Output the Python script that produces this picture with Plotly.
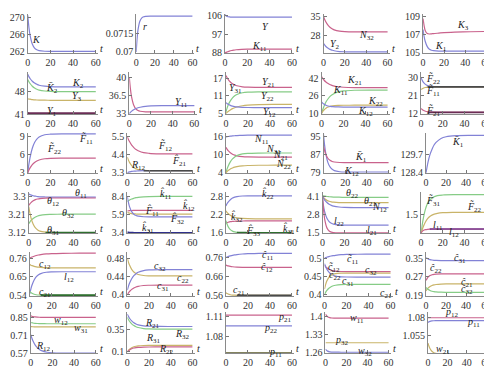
import plotly.graph_objects as go

T = [0, 1, 2, 4, 6, 8, 10, 15, 20, 30, 45, 60]
N = None

# ---- row 1 ----
K = [270.6, 267.8, 265.95, 263.85, 262.9, 262.5, 262.3, 262.17, 262.15, 262.15, 262.15, 262.15]
r = [0.0700, 0.07113, 0.07183, 0.07251, 0.07276, 0.07285, 0.07288, 0.0729, 0.0729, 0.0729, 0.0729, 0.0729]
Y = [106.6, 106.0, 105.7, 105.5, 105.4, 105.4, 105.4, 105.4, 105.4, 105.4, 105.4, 105.4]
K11_a = [88.0, 88.3, 88.5, 88.9, 89.2, 89.4, 89.55, 89.75, 89.85, 89.9, 89.9, 89.9]
N32_a = [35.2, 34.1, 33.2, 31.9, 31.0, 30.4, 30.0, 29.5, 29.3, 29.2, 29.2, 29.2]
Y2_a = [24.8, 24.2, 23.7, 23.0, 22.5, 22.2, 21.95, 21.65, 21.56, 21.5, 21.5, 21.5]
K3 = [108.8, 108.0, 107.5, 107.15, 107.1, 107.12, 107.15, 107.2, 107.25, 107.3, 107.35, 107.38]
K1 = [107.6, 106.8, 106.3, 105.7, 105.4, 105.3, 105.25, 105.2, 105.2, 105.2, 105.2, 105.2]
# ---- row 2 ----
K2 = [53.5, 52.8, 52.2, 51.35, 50.8, 50.4, 50.1, 49.8, 49.67, 49.6, 49.6, 49.6]
K2bar = [51.9, 51.2, 50.65, 49.8, 49.25, 48.85, 48.6, 48.3, 48.17, 48.1, 48.1, 48.1]
Y3 = [45.9, 45.8, 45.75, 45.6, 45.55, 45.5, 45.47, 45.43, 45.41, 45.4, 45.4, 45.4]
Y1 = [41.4, 41.35, 41.32, 41.3, 41.3, 41.3, 41.3, 41.3, 41.3, 41.3, 41.3, 41.3]
Y12_a = [40.0, 37.8, 36.3, 34.65, 33.9, 33.57, 33.43, 33.32, 33.3, 33.3, 33.3, 33.3]
Y11_a = [33.0, 33.2, 33.4, 33.7, 33.95, 34.1, 34.2, 34.38, 34.45, 34.5, 34.5, 34.5]
Y21 = [18.0, 17.26, 16.65, 15.75, 15.13, 14.72, 14.45, 14.1, 13.97, 13.91, 13.9, 13.9]
Y31 = [5.5, 6.74, 7.78, 9.3, 10.33, 11.02, 11.47, 12.06, 12.28, 12.38, 12.4, 12.4]
Y22 = [5.0, 5.37, 5.68, 6.2, 6.64, 6.95, 7.2, 7.63, 7.85, 8.03, 8.09, 8.1]
Y12_b = [8.7, 8.39, 8.14, 7.77, 7.51, 7.34, 7.23, 7.09, 7.03, 7.0, 7.0, 7.0]
K21 = [43.5, 42.0, 40.7, 38.6, 37.2, 36.1, 35.4, 34.3, 33.86, 33.57, 33.5, 33.5]
K11_b = [10.0, 13.2, 15.96, 20.4, 23.4, 25.76, 27.25, 29.6, 30.53, 31.15, 31.3, 31.3]
K22 = [10.0, 11.65, 12.9, 14.7, 15.85, 16.5, 16.9, 17.33, 17.45, 17.5, 17.5, 17.5]
K12_a = [20.4, 19.4, 18.6, 17.5, 16.8, 16.4, 16.18, 15.9, 15.83, 15.8, 15.8, 15.8]
Ft22_a = [30.0, 28.7, 27.75, 26.6, 26.0, 25.72, 25.57, 25.43, 25.4, 25.4, 25.4, 25.4]
Ft11_a = [24.0, 24.4, 24.7, 25.04, 25.21, 25.3, 25.35, 25.39, 25.4, 25.4, 25.4, 25.4]
Ft12_a = [N, N, N, N, 25.4, 25.4, 25.4, 25.4, 25.4, 25.4, 25.4, 25.4]
Ft21_a = [14.5, 13.97, 13.57, 13.1, 12.86, 12.73, 12.67, 12.61, 12.6, 12.6, 12.6, 12.6]
Ft21_d = [N, N, N, N, 12.5, 12.5, 12.5, 12.5, 12.5, 12.5, 12.5, 12.5]
# ---- row 3 ----
Ft11_b = [3.0, 4.43, 5.54, 7.1, 8.07, 8.62, 8.97, 9.35, 9.45, 9.5, 9.5, 9.5]
Ft22_b = [3.0, 3.44, 3.81, 4.35, 4.72, 4.96, 5.12, 5.33, 5.41, 5.44, 5.45, 5.45]
Ft12_b = [5.5, 5.34, 5.21, 4.99, 4.84, 4.72, 4.65, 4.53, 4.49, 4.46, 4.45, 4.45]
Fh21_b = [4.25, 4.07, 3.93, 3.73, 3.6, 3.53, 3.49, 3.44, 3.43, 3.42, 3.42, 3.42]
R12_b = [3.3, 3.33, 3.35, 3.38, 3.39, 3.4, 3.41, 3.42, 3.42, 3.42, 3.42, 3.42]
N_b = [N, N, N, N, N, N, N, 3.42, 3.42, 3.42, 3.42, 3.42]
N11 = [16.0, 16.07, 16.13, 16.23, 16.32, 16.38, 16.43, 16.51, 16.55, 16.59, 16.6, 16.6]
N21 = [12.5, 11.9, 11.4, 10.7, 10.2, 9.86, 9.65, 9.37, 9.26, 9.21, 9.2, 9.2]
N31 = [4.0, 5.19, 6.18, 7.63, 8.62, 9.28, 9.71, 10.27, 10.48, 10.58, 10.6, 10.6]
N22 = [4.0, 4.38, 4.7, 5.23, 5.58, 5.85, 6.03, 6.3, 6.41, 6.48, 6.5, 6.5]
K12_c = [96.0, 91.3, 87.8, 83.6, 81.55, 80.5, 79.9, 79.42, 79.3, 79.3, 79.3, 79.3]
K1bar_c = [91.0, 88.9, 87.3, 85.45, 84.5, 84.0, 83.77, 83.55, 83.5, 83.5, 83.5, 83.5]
K1bar_d = [128.4, 128.8, 129.16, 129.72, 130.1, 130.4, 130.59, 130.88, 131.0, 131.08, 131.1, 131.1]
# ---- row 4 ----
th11 = [3.312, 3.309, 3.307, 3.303, 3.301, 3.299, 3.298, 3.297, 3.296, 3.296, 3.296, 3.296]
th12 = [3.255, 3.263, 3.269, 3.278, 3.284, 3.287, 3.289, 3.291, 3.292, 3.292, 3.292, 3.292]
th32 = [3.165, 3.173, 3.181, 3.191, 3.198, 3.203, 3.206, 3.21, 3.211, 3.212, 3.212, 3.212]
th31 = [3.25, 3.218, 3.194, 3.162, 3.144, 3.134, 3.128, 3.123, 3.121, 3.121, 3.121, 3.121]
th31_d = [N, N, N, N, N, N, N, 3.121, 3.121, 3.121, 3.121, 3.121]
kh11 = [7.7, 7.8, 7.9, 8.04, 8.14, 8.22, 8.27, 8.34, 8.37, 8.4, 8.4, 8.4]
kh12 = [6.4, 6.42, 6.44, 6.46, 6.47, 6.48, 6.48, 6.48, 6.48, 6.48, 6.48, 6.48]
Fh11 = [6.2, 6.15, 6.1, 6.04, 6.0, 5.98, 5.96, 5.95, 5.95, 5.95, 5.95, 5.95]
Fh32 = [8.35, 7.57, 6.99, 6.3, 5.95, 5.77, 5.68, 5.6, 5.58, 5.58, 5.58, 5.58]
kh31 = [3.5, 3.46, 3.44, 3.42, 3.41, 3.4, 3.4, 3.4, 3.4, 3.4, 3.4, 3.4]
kh22 = [2.48, 2.555, 2.61, 2.69, 2.745, 2.774, 2.792, 2.812, 2.818, 2.82, 2.82, 2.82]
kh32 = [2.32, 2.273, 2.234, 2.177, 2.138, 2.112, 2.095, 2.073, 2.065, 2.06, 2.06, 2.06]
kh21 = [1.92, 1.935, 1.947, 1.966, 1.975, 1.98, 1.985, 1.988, 1.99, 1.99, 1.99, 1.99]
Fh33 = [2.0, 1.888, 1.804, 1.704, 1.654, 1.628, 1.614, 1.603, 1.6, 1.6, 1.6, 1.6]
Fh33_d = [N, N, N, N, N, N, 1.605, 1.602, 1.6, 1.6, 1.6, 1.6]
th22 = [4.15, 4.13, 4.116, 4.091, 4.074, 4.061, 4.053, 4.04, 4.034, 4.031, 4.03, 4.03]
th21 = [4.1, 4.0, 3.925, 3.816, 3.75, 3.71, 3.687, 3.66, 3.653, 3.65, 3.65, 3.65]
N12 = [4.1, 3.956, 3.836, 3.66, 3.54, 3.46, 3.408, 3.34, 3.314, 3.302, 3.3, 3.3]
l22 = [3.9, 3.38, 2.99, 2.53, 2.3, 2.18, 2.117, 2.063, 2.05, 2.05, 2.05, 2.05]
l21 = [4.1, 3.09, 2.46, 1.85, 1.63, 1.547, 1.518, 1.5, 1.5, 1.5, 1.5, 1.5]
Ft31 = [1.0, 1.22, 1.39, 1.63, 1.78, 1.865, 1.918, 1.977, 1.993, 2.0, 2.0, 2.0]
Ft22_c = [1.0, 1.1, 1.18, 1.3, 1.385, 1.44, 1.476, 1.52, 1.54, 1.549, 1.55, 1.55]
l11_a = [1.02, 1.06, 1.085, 1.105, 1.113, 1.117, 1.119, 1.12, 1.12, 1.12, 1.12, 1.12]
l11_d = [N, N, N, N, N, 1.118, 1.12, 1.12, 1.12, 1.12, 1.12, 1.12]
# ---- row 5 ----
c11 = [0.76, 0.7635, 0.7664, 0.7713, 0.7754, 0.7783, 0.7806, 0.7846, 0.7867, 0.7883, 0.7889, 0.789]
c12 = [0.722, 0.7186, 0.7157, 0.7116, 0.7087, 0.7068, 0.7056, 0.704, 0.7033, 0.703, 0.703, 0.703]
l12_c = [0.55, 0.5786, 0.6007, 0.6319, 0.6514, 0.6625, 0.6693, 0.677, 0.6791, 0.68, 0.68, 0.68]
c21 = [0.565, 0.5586, 0.5537, 0.548, 0.5451, 0.5436, 0.5428, 0.5422, 0.542, 0.542, 0.542, 0.542]
c21_d = [N, N, N, N, N, N, 0.5428, 0.5422, 0.542, 0.542, 0.542, 0.542]
c22 = [0.48, 0.4714, 0.4648, 0.4554, 0.4496, 0.4463, 0.4442, 0.4419, 0.4413, 0.441, 0.441, 0.441]
c32 = [0.41, 0.4181, 0.4249, 0.4348, 0.4415, 0.446, 0.4489, 0.4528, 0.4542, 0.4549, 0.455, 0.455]
c31 = [0.4, 0.4038, 0.4069, 0.4116, 0.4147, 0.4168, 0.4182, 0.42, 0.4206, 0.421, 0.421, 0.421]
e11 = [0.76, 0.7626, 0.7648, 0.7686, 0.7717, 0.7739, 0.7756, 0.7787, 0.7802, 0.7815, 0.7819, 0.782]
e12 = [0.72, 0.7178, 0.716, 0.7134, 0.7116, 0.7104, 0.7096, 0.7086, 0.7082, 0.708, 0.708, 0.708]
e21 = [0.575, 0.5711, 0.5681, 0.5646, 0.5629, 0.562, 0.5615, 0.5611, 0.561, 0.561, 0.561, 0.561]
e21_d = [N, N, N, N, N, N, 0.5615, 0.5611, 0.561, 0.561, 0.561, 0.561]
h11 = [0.5, 0.5013, 0.5024, 0.5043, 0.5058, 0.5069, 0.5078, 0.5094, 0.5101, 0.5107, 0.511, 0.511]
h32 = [0.48, 0.4763, 0.4734, 0.4693, 0.4667, 0.4653, 0.4644, 0.4634, 0.4631, 0.463, 0.463, 0.463]
h12 = [0.485, 0.4769, 0.4706, 0.4617, 0.4561, 0.453, 0.451, 0.4489, 0.4483, 0.448, 0.448, 0.448]
h22 = [0.415, 0.4273, 0.4366, 0.4476, 0.4531, 0.4559, 0.4574, 0.4587, 0.459, 0.459, 0.459, 0.459]
h31 = [0.4, 0.4062, 0.4109, 0.4176, 0.4218, 0.4242, 0.4257, 0.4274, 0.4278, 0.428, 0.428, 0.428]
g31 = [0.352, 0.3491, 0.3469, 0.3438, 0.3419, 0.3408, 0.3401, 0.3393, 0.3391, 0.339, 0.339, 0.339]
g22 = [0.255, 0.2628, 0.2687, 0.2757, 0.2792, 0.281, 0.282, 0.2828, 0.283, 0.283, 0.283, 0.283]
g21 = [0.21, 0.2166, 0.2217, 0.2289, 0.2334, 0.236, 0.2375, 0.2393, 0.2398, 0.24, 0.24, 0.24]
g32 = [0.225, 0.2204, 0.2168, 0.2118, 0.2086, 0.2068, 0.2057, 0.2045, 0.2041, 0.204, 0.204, 0.204]
# ---- row 6 ----
w22 = [0.862, 0.8586, 0.8561, 0.8531, 0.8516, 0.8508, 0.8504, 0.8501, 0.85, 0.85, 0.85, 0.85]
w12 = [0.81, 0.8078, 0.8061, 0.8037, 0.8022, 0.8014, 0.8008, 0.8002, 0.8001, 0.8, 0.8, 0.8]
w31 = [0.778, 0.777, 0.7765, 0.776, 0.7755, 0.775, 0.775, 0.775, 0.775, 0.775, 0.775, 0.775]
R12_w = [0.715, 0.6889, 0.6672, 0.6353, 0.6135, 0.599, 0.5896, 0.5773, 0.5726, 0.5704, 0.57, 0.57]
R21 = [0.527, 0.5018, 0.4808, 0.45, 0.429, 0.415, 0.4059, 0.394, 0.3895, 0.3874, 0.387, 0.387]
R32 = [0.49, 0.466, 0.4461, 0.4169, 0.3969, 0.3836, 0.375, 0.3637, 0.3594, 0.3573, 0.357, 0.357]
R31 = [0.1, 0.1161, 0.1285, 0.146, 0.1569, 0.1631, 0.167, 0.1713, 0.1725, 0.173, 0.173, 0.173]
R22 = [0.1, 0.1121, 0.1215, 0.1347, 0.1429, 0.1476, 0.1505, 0.1537, 0.1546, 0.155, 0.155, 0.155]
p21 = [1.1125, 1.1125, 1.1125, 1.1125, 1.1125, 1.1125, 1.1125, 1.1125, 1.1125, 1.1125, 1.1125, 1.1125]
p22 = [1.096, 1.096, 1.096, 1.096, 1.096, 1.096, 1.096, 1.096, 1.096, 1.096, 1.096, 1.096]
p11_a = [1.0538, 1.0538, 1.0538, 1.0538, 1.0538, 1.0538, 1.0538, 1.0538, 1.0538, 1.0538, 1.0538, 1.0538]
w11 = [1.41, 1.4038, 1.3999, 1.3962, 1.3948, 1.3943, 1.3941, 1.394, 1.394, 1.394, 1.394, 1.394]
p32 = [1.298, 1.298, 1.298, 1.298, 1.298, 1.298, 1.298, 1.298, 1.298, 1.298, 1.298, 1.298]
w32 = [1.273, 1.2683, 1.2654, 1.2626, 1.2616, 1.2612, 1.2611, 1.261, 1.261, 1.261, 1.261, 1.261]
p12 = [1.0795, 1.0795, 1.0795, 1.0795, 1.0795, 1.0795, 1.0795, 1.0795, 1.0795, 1.0795, 1.0795, 1.0795]
p11_b = [1.073, 1.074, 1.0746, 1.0752, 1.0754, 1.0755, 1.0755, 1.0755, 1.0755, 1.0755, 1.0755, 1.0755]
w21 = [1.045, 1.0408, 1.0377, 1.0339, 1.032, 1.0311, 1.0305, 1.0301, 1.03, 1.03, 1.03, 1.03]

XTICKS = [0, 20, 40, 60]

BL, PK, GR, OL = "#8282d6", "#c9628c", "#86cc86", "#c9b469"
DK, DG, DP, DB = "#4a4a4a", "#2f6e2f", "#6a2d55", "#30308a"


def lab(base, sub="", acc=""):
    s = "<i>" + base + acc + "</i>"
    if sub:
        s += "<sub>" + sub + "</sub>"
    return s

TIL, BAR, HAT = "\u0303", "\u0304", "\u0302"

# column geometry per row: (y-axis x pixel, pixel of t=60)
COLS = [
    [(16, 85), (126, 183), (216, 284), (316, 381), (417, 481)],
    [(16, 85), (119, 185), (217, 284), (314, 381), (415, 481)],
    [(16, 85), (117, 183), (217, 284), (316, 382), (420, 481)],
    [(17, 85), (117, 183), (217, 284), (315, 382), (415, 481)],
    [(18, 85), (117, 183), (217, 284), (317, 384), (420, 481)],
    [(19, 85), (117, 183), (217, 284), (318, 382), (422, 481)],
]
ROWS = [(3, 43), (63, 106), (125, 166), (186, 228), (247, 292), (309, 351)]
XMAX = 62

panels = [
    dict(rc=(0, 0), cal=(262, 42, 270, 7), ticks=[262, 266, 270],
         curves=[(K, BL, 1.2)], labels=[(lab("K"), 8, 265)]),
    dict(rc=(0, 1), cal=(0.07, 42, 0.0715, 23), ticks=[0.07, 0.0715], fmt=["0.07", "0.0715"],
         curves=[(r, BL, 1.2)], labels=[(lab("r"), 9, 0.0721)]),
    dict(rc=(0, 2), cal=(88, 43, 106, 5), ticks=[88, 97, 106],
         curves=[(Y, BL, 1.2), (K11_a, PK, 1.2)],
         labels=[(lab("Y"), 36, 101), (lab("K", "11"), 31, 91)]),
    dict(rc=(0, 3), cal=(21, 43.3, 35, 6), ticks=[21, 28, 35],
         curves=[(N32_a, PK, 1.2), (Y2_a, BL, 1.2)],
         labels=[(lab("N", "32"), 40, 27.9), (lab("Y", "2"), 11, 24.4)]),
    dict(rc=(0, 4), cal=(105, 43, 109, 6), ticks=[105, 107, 109],
         curves=[(K3, PK, 1.2), (K1, BL, 1.2)],
         labels=[(lab("K", "3"), 38, 108), (lab("K", "1"), 17, 105.7)]),
    # row 2
    dict(rc=(1, 0), cal=(41, 106, 48, 83), ticks=[41, 48],
         curves=[(K2, BL, 1.2), (K2bar, GR, 1.2), (Y3, OL, 1.2), (Y1, DP, 2.2)],
         labels=[(lab("K", "2"), 44, 50.5), (lab("K", "2", BAR), 21, 49.0),
                 (lab("Y", "3"), 43, 46.5), (lab("Y", "1"), 21, 41.8)]),
    dict(rc=(1, 1), cal=(33, 105, 40, 68), ticks=[33, 36.5, 40],
         curves=[(Y12_a, PK, 1.2), (Y11_a, BL, 1.2)],
         labels=[(lab("Y", "11"), 48, 35.2), (lab("Y", "12"), 30, 32.7)],
         extra=[(lab("N", "2"), 13, 31.6)]),
    dict(rc=(1, 2), cal=(5, 105, 17, 69), ticks=[5, 11, 17],
         curves=[(Y21, PK, 1.2), (Y31, GR, 1.2), (Y22, OL, 1.2), (Y12_b, BL, 1.2)],
         labels=[(lab("Y", "21"), 38.5, 15.7), (lab("Y", "31"), 9, 13.4),
                 (lab("Y", "22"), 38, 10.7), (lab("Y", "12"), 40, 5.2)]),
    dict(rc=(1, 3), cal=(10, 105, 42, 69), ticks=[10, 26, 42],
         curves=[(K21, PK, 1.2), (K11_b, GR, 1.2), (K22, OL, 1.2), (K12_a, BL, 1.2)],
         labels=[(lab("K", "21"), 30, 40), (lab("K", "11"), 17, 30.5),
                 (lab("K", "22"), 49, 20.7), (lab("K", "12"), 40, 11.8)]),
    dict(rc=(1, 4), cal=(12, 105, 30, 68.3), ticks=[12, 21, 30],
         curves=[(Ft22_a, BL, 1.2), (Ft11_a, OL, 1.2), (Ft12_a, DK, 1.8),
                 (Ft21_a, PK, 1.2), (Ft21_d, DP, 1.8)],
         labels=[(lab("F", "22", TIL), 11, 29.3), (lab("F", "11", TIL), 11, 23.5),
                 (lab("F", "21", TIL), 11, 13.3)]),
    # row 3
    dict(rc=(2, 0), cal=(3, 165.7, 9, 129), ticks=[3, 6, 9],
         curves=[(Ft11_b, BL, 1.2), (Ft22_b, PK, 1.2)],
         labels=[(lab("F", "11", TIL), 51, 8.6), (lab("F", "22", TIL), 24, 6.9)]),
    dict(rc=(2, 1), cal=(3.3, 165.7, 5.5, 129), ticks=[3.3, 4.4, 5.5],
         curves=[(Ft12_b, PK, 1.2), (Fh21_b, OL, 1.2), (R12_b, BL, 1.2), (N_b, DK, 1.6)],
         labels=[(lab("F", "12", TIL), 35, 4.95), (lab("F", "21", HAT), 48, 4.0),
                 (lab("R", "12"), 10, 3.76)],
         extra=[(lab("N"), 34, 3.15)]),
    dict(rc=(2, 2), cal=(4, 165.7, 16, 129), ticks=[4, 10, 16],
         curves=[(N11, BL, 1.2), (N21, PK, 1.2), (N31, GR, 1.2), (N22, OL, 1.2)],
         labels=[(lab("N", "11"), 32, 15.0), (lab("N", "31"), 43, 11.8),
                 (lab("N", "21"), 50, 9.6), (lab("N", "22"), 52, 6.6)]),
    dict(rc=(2, 3), cal=(79, 165.7, 95, 129), ticks=[79, 87, 95],
         curves=[(K12_c, BL, 1.2), (K1bar_c, PK, 1.2)],
         labels=[(lab("K", "1", BAR), 35, 85.7), (lab("K", "12"), 26, 79.6)]),
    dict(rc=(2, 4), cal=(128.4, 165.7, 129.7, 147.3), ticks=[128.4, 129.7],
         curves=[(K1bar_d, BL, 1.2)],
         labels=[(lab("K", "1", BAR), 32, 130.6)]),
    # row 4
    dict(rc=(3, 0), cal=(3.12, 227.3, 3.3, 190), ticks=[3.12, 3.21, 3.3],
         curves=[(th11, BL, 1.2), (th12, PK, 1.2), (th32, GR, 1.2), (th31, OL, 1.2), (th31_d, DG, 1.6)],
         labels=[(lab("θ", "11"), 47, 3.316), (lab("θ", "12"), 22, 3.276),
                 (lab("θ", "32"), 35, 3.216), (lab("θ", "31"), 22, 3.131)]),
    dict(rc=(3, 1), cal=(3.4, 227.3, 8.4, 190), ticks=[3.4, 5.9, 8.4],
         curves=[(kh11, GR, 1.2), (kh12, PK, 1.2), (Fh11, OL, 1.2), (Fh32, BL, 1.2), (kh31, DB, 1.6)],
         labels=[(lab("k", "11", HAT), 36, 8.75), (lab("k", "12", HAT), 57, 7.1),
                 (lab("F", "11", HAT), 23, 6.35), (lab("F", "32", HAT), 46, 5.25),
                 (lab("k", "31", HAT), 19, 4.0)]),
    dict(rc=(3, 2), cal=(1.6, 227.3, 2.8, 190), ticks=[1.6, 2.2, 2.8],
         curves=[(kh22, BL, 1.2), (kh32, OL, 1.2), (kh21, PK, 1.2), (Fh33, GR, 1.2), (Fh33_d, DG, 1.8)],
         labels=[(lab("k", "22", HAT), 38, 2.87), (lab("k", "32", HAT), 10, 2.13),
                 (lab("F", "33", HAT), 25, 1.65), (lab("k", "31", HAT), 57, 1.74)],
         extra=[(lab("θ", "21"), 40, 1.42)]),
    dict(rc=(3, 3), cal=(1.5, 227.3, 4.1, 190), ticks=[1.5, 2.8, 4.1],
         curves=[(th22, GR, 1.2), (th21, OL, 1.2), (N12, BL, 1.2), (l22, BL, 1.2), (l21, PK, 1.2)],
         labels=[(lab("θ", "22"), 27, 4.32), (lab("θ", "21"), 43, 3.75),
                 (lab("N", "12"), 52, 3.33), (lab("l", "22"), 15, 2.27),
                 (lab("l", "21"), 45, 1.64)]),
    dict(rc=(3, 4), cal=(1.0, 228.3, 1.5, 208.3), ticks=[1.5],
         curves=[(Ft31, GR, 1.2), (Ft22_c, OL, 1.2), (l11_a, PK, 1.2), (l11_d, "#7a3f92", 1.6)],
         labels=[(lab("F", "31", TIL), 11, 1.84), (lab("F", "22", TIL), 49, 1.68),
                 (lab("l", "11"), 16, 1.2), (lab("l", "12"), 30, 1.03)],
         extra=[(lab("c", "12"), -6, 0.89)]),
    # row 5
    dict(rc=(4, 0), cal=(0.54, 291.7, 0.76, 253.3), ticks=[0.54, 0.65, 0.76],
         curves=[(c11, PK, 1.2), (c12, OL, 1.2), (l12_c, BL, 1.2), (c21, GR, 1.2), (c21_d, DG, 1.8)],
         labels=[(lab("c", "11"), 54, 0.80), (lab("c", "12"), 14, 0.724),
                 (lab("l", "12"), 36, 0.645), (lab("c", "21"), 14, 0.558)]),
    dict(rc=(4, 1), cal=(0.4, 290.7, 0.48, 253.3), ticks=[0.4, 0.44, 0.48],
         curves=[(c22, OL, 1.2), (c32, BL, 1.2), (c31, PK, 1.2)],
         labels=[(lab("c", "32"), 30, 0.461), (lab("c", "22"), 51, 0.436),
                 (lab("c", "31"), 33, 0.4175)]),
    dict(rc=(4, 2), cal=(0.56, 291.7, 0.76, 252.7), ticks=[0.56, 0.66, 0.76],
         curves=[(e11, BL, 1.2), (e12, PK, 1.2), (e21, OL, 1.2), (e21_d, DK, 1.8)],
         labels=[(lab("c", "11", HAT), 38, 0.772), (lab("c", "12", HAT), 37, 0.706),
                 (lab("c", "21"), 12, 0.585)]),
    dict(rc=(4, 3), cal=(0.4, 290.7, 0.5, 253.3), ticks=[0.4, 0.45, 0.5],
         curves=[(h11, BL, 1.2), (h32, PK, 1.2), (h12, BL, 1.2), (h22, OL, 1.2), (h31, GR, 1.2)],
         labels=[(lab("c", "11", TIL), 26, 0.495), (lab("c", "12", TIL), 9, 0.475),
                 (lab("c", "22", TIL), 10, 0.452), (lab("c", "32"), 42, 0.466),
                 (lab("c", "31"), 21, 0.436), (lab("c", "21"), 56, 0.403)]),
    dict(rc=(4, 4), cal=(0.19, 291.7, 0.35, 253.3), ticks=[0.19, 0.27, 0.35],
         curves=[(g31, BL, 1.2), (g22, PK, 1.2), (g21, OL, 1.2), (g32, GR, 1.2)],
         labels=[(lab("c", "31", HAT), 34, 0.348), (lab("c", "22", HAT), 10, 0.306),
                 (lab("c", "21", HAT), 41, 0.246), (lab("c", "32", HAT), 41, 0.218)],
         extra=[(lab("c", "11", HAT), 4, 0.166)]),
    # row 6
    dict(rc=(5, 0), cal=(0.57, 350.7, 0.85, 314), ticks=[0.57, 0.71, 0.85],
         curves=[(w22, PK, 1.2), (w12, GR, 1.2), (w31, OL, 1.2), (R12_w, BL, 1.2)],
         labels=[(lab("w", "22"), 46, 0.893), (lab("w", "12"), 28, 0.828),
                 (lab("w", "31"), 46, 0.764), (lab("R", "12"), 12, 0.624)]),
    dict(rc=(5, 1), cal=(0.1, 349.3, 0.35, 326.7), ticks=[0.1, 0.35],
         curves=[(R21, BL, 1.2), (R32, GR, 1.2), (R31, OL, 1.2), (R22, PK, 1.2)],
         labels=[(lab("R", "21"), 23, 0.42), (lab("R", "32"), 51, 0.30),
                 (lab("R", "31"), 24, 0.25), (lab("R", "22"), 36, 0.128)]),
    dict(rc=(5, 2), cal=(1.08, 333.3, 1.11, 313.3), ticks=[1.08, 1.11],
         curves=[(p21, PK, 1.2), (p22, BL, 1.2), (p11_a, "#5a5a2a", 1.8)],
         labels=[(lab("p", "21"), 54, 1.109), (lab("p", "22"), 41, 1.092),
                 (lab("p", "11"), 45, 1.0555)]),
    dict(rc=(5, 3), cal=(1.26, 350, 1.4, 313.3), ticks=[1.26, 1.33, 1.4],
         curves=[(w11, PK, 1.2), (p32, OL, 1.2), (w32, BL, 1.2)],
         labels=[(lab("w", "11"), 30, 1.392), (lab("p", "32"), 16, 1.305),
                 (lab("w", "32"), 38, 1.263)]),
    dict(rc=(5, 4), cal=(1.03, 351.7, 1.08, 314), ticks=[1.03, 1.055, 1.08],
         curves=[(p12, PK, 1.2), (p11_b, BL, 1.2), (w21, OL, 1.2)],
         labels=[(lab("p", "12"), 25, 1.086), (lab("p", "11"), 47, 1.0725),
                 (lab("w", "21"), 15, 1.0365)]),
]

W, H = 492, 370
SERIF = "Liberation Serif"
fig = go.Figure()
layout = dict(width=W, height=H, margin=dict(l=0, r=0, t=0, b=0),
              paper_bgcolor="white", plot_bgcolor="white", showlegend=False)
annotations = []

for i, p in enumerate(panels, start=1):
    ri, ci = p["rc"]
    ax_px, x60 = COLS[ri][ci]
    top, bot = ROWS[ri]
    xr_px = ax_px + (x60 - ax_px) * XMAX / 60
    v1, py1, v2, py2 = p["cal"]
    scale = (v2 - v1) / (py1 - py2)
    lo = v1 - (bot - py1) * scale
    hi = v1 + (py1 - top) * scale
    xa = "x" if i == 1 else f"x{i}"
    ya = "y" if i == 1 else f"y{i}"
    xkey = "xaxis" if i == 1 else f"xaxis{i}"
    ykey = "yaxis" if i == 1 else f"yaxis{i}"
    axfont = dict(family=SERIF, size=10, color="#333")
    layout[xkey] = dict(domain=[ax_px / W, xr_px / W], range=[0, XMAX], anchor=ya,
                        tickvals=XTICKS, ticks="inside", ticklen=3, tickcolor="#777",
                        showline=True, linecolor="#8a8a8a", linewidth=1,
                        showgrid=False, zeroline=False, tickfont=axfont, fixedrange=True)
    ytext = p.get("fmt", [("%g" % t) for t in p["ticks"]])
    layout[ykey] = dict(domain=[1 - bot / H, 1 - top / H], range=[lo, hi], anchor=xa,
                        tickvals=p["ticks"], ticktext=ytext, ticks="inside", ticklen=3,
                        tickcolor="#777", showline=True, linecolor="#8a8a8a", linewidth=1,
                        showgrid=False, zeroline=False, tickfont=axfont, fixedrange=True)
    for arr, col, wd in p["curves"]:
        fig.add_trace(go.Scatter(x=T, y=arr, mode="lines", xaxis=xa, yaxis=ya,
                                 line=dict(color=col, width=wd, shape="spline", smoothing=0.8),
                                 connectgaps=False, hoverinfo="skip"))
    for txt, tx, ty in p["labels"] + p.get("extra", []):
        annotations.append(dict(text=txt, x=tx, y=ty, xref=xa, yref=ya, showarrow=False,
                                font=dict(family=SERIF, size=10, color="#222")))
    annotations.append(dict(text="<i>t</i>", x=1, y=0, xref=f"{xa} domain", yref=f"{ya} domain",
                            xanchor="left", yanchor="bottom", xshift=0, yshift=-3, showarrow=False,
                            font=dict(family=SERIF, size=10, color="#222")))

layout["annotations"] = annotations
fig.update_layout(**layout)
fig.write_html("out.html")
